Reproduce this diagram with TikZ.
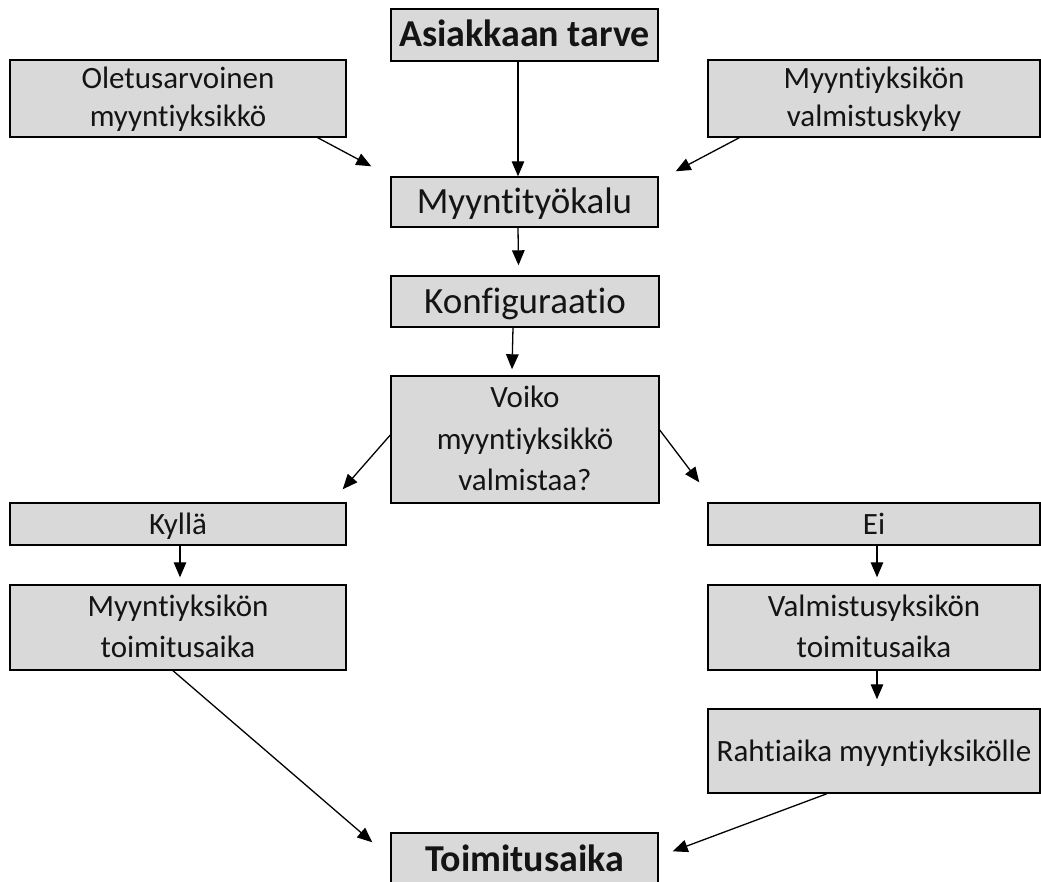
\documentclass[tikz,border=0pt]{standalone}
\usepackage{fontspec}
\setmainfont{Carlito}[Ligatures=NoCommon]
\usetikzlibrary{arrows.meta}
\definecolor{boxgray}{HTML}{D9D9D9}
\definecolor{txt}{HTML}{141414}
\tikzset{
  box/.style={draw=black, fill=boxgray, line width=1.4pt, inner sep=0pt, anchor=center, text=txt, align=center},
  small/.style={font=\fontsize{31}{41}\selectfont, text height=20pt, text depth=0pt},
  twotop/.style={font=\fontsize{31}{38}\selectfont, text height=56pt, text depth=0pt},
  twoline/.style={font=\fontsize{31}{41.5}\selectfont, text height=60pt, text depth=0pt},
  threeline/.style={font=\fontsize{31}{41.5}\selectfont, text height=102pt, text depth=0pt},
  big/.style={font=\fontsize{37}{44}\selectfont, text height=23.5pt, text depth=0pt},
  bigbold/.style={font=\fontsize{38}{44}\selectfont\bfseries, text height=24pt, text depth=0pt},
  arr/.style={line width=1.3pt, -{Triangle[length=15pt,width=12.5pt]}}
}
\begin{document}
\begin{tikzpicture}[x=1pt,y=-1pt]
\useasboundingbox (0,0) rectangle (1041,882);
\node[box,bigbold,minimum width=267pt,minimum height=52pt] (tarve) at (524.5,35) {Asiakkaan tarve};
\node[box,twotop,minimum width=336pt,minimum height=77pt] (oletus) at (178,98.5) {Oletusarvoinen\\myyntiyksikkö};
\node[box,twotop,minimum width=332pt,minimum height=77pt] (kyky) at (874,98.5) {Myyntiyksikön\\valmistuskyky};
\node[box,big,minimum width=267pt,minimum height=50pt] (tyokalu) at (524.5,202) {Myyntityökalu};
\node[box,big,minimum width=268pt,minimum height=51pt] (konf) at (525,301.5) {Konfiguraatio};
\node[box,threeline,minimum width=268pt,minimum height=127pt] (voiko) at (525,439.5) {Voiko\\myyntiyksikkö\\valmistaa?};
\node[box,small,minimum width=336pt,minimum height=42pt] (kylla) at (178,524) {Kyllä};
\node[box,small,minimum width=332pt,minimum height=42pt] (ei) at (874,524) {Ei};
\node[box,twoline,minimum width=336pt,minimum height=85pt] (myyta) at (178,627.5) {Myyntiyksikön\\toimitusaika};
\node[box,twoline,minimum width=332pt,minimum height=85pt] (valta) at (874,627.5) {Valmistusyksikön\\toimitusaika};
\node[box,small,minimum width=332pt,minimum height=84pt] (rahti) at (874,751) {Rahtiaika myyntiyksikölle};
\node[box,bigbold,minimum width=267pt,minimum height=52pt] (toim) at (524.5,859) {Toimitusaika};

\draw[arr] ([xshift=-6.5pt]tarve.south) -- ([xshift=-6.5pt]tyokalu.north);
\draw[arr] ([xshift=-29pt]oletus.south east) -- ([xshift=-19pt,yshift=10pt]tyokalu.north west);
\draw[arr] ([xshift=32pt]kyky.south west) -- ([xshift=17pt,yshift=5pt]tyokalu.north east);
\draw[arr] ([xshift=-6.5pt]tyokalu.south) -- ([xshift=-6.5pt,yshift=10pt]konf.north);
\draw[arr] ([xshift=-12pt]konf.south) -- ([xshift=-13pt,yshift=6pt]voiko.north);
\draw[arr] ([yshift=4.5pt]voiko.west) -- ([xshift=-4pt,yshift=13pt]kylla.north east);
\draw[arr] ([yshift=9.5pt]voiko.east) -- ([xshift=-8pt,yshift=20pt]ei.north west);
\draw[arr] ([xshift=2pt]kylla.south) -- ([xshift=2pt,yshift=7pt]myyta.north);
\draw[arr] ([xshift=3pt]ei.south) -- ([xshift=3pt,yshift=7pt]valta.north);
\draw[arr] ([xshift=3pt]valta.south) -- ([xshift=3pt,yshift=9pt]rahti.north);
\draw[arr] ([xshift=-5pt]myyta.south) -- ([xshift=-18pt,yshift=-10pt]toim.north west);
\draw[arr] ([xshift=-47pt]rahti.south) -- ([xshift=14pt,yshift=-19pt]toim.north east);
\end{tikzpicture}
\end{document}
